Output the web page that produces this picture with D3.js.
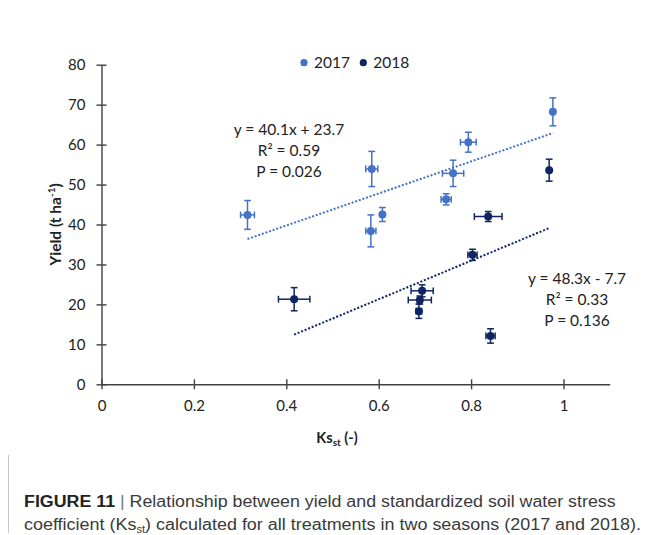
<!DOCTYPE html>
<html>
<head>
<meta charset="utf-8">
<script src="https://cdn.jsdelivr.net/npm/d3@7"></script>
<style>
  html, body { margin: 0; padding: 0; background: #fff; }
  svg { display: block; }
</style>
</head>
<body>
<svg id="chart" width="648" height="535"></svg>
<script>
// Yield vs. standardized soil water stress coefficient, two seasons
const seasons = ["2017", "2018"];
const seasonColors = ["#4472C4", "#0E2463"];

const ks2017 = [0.316, 0.585, 0.583, 0.608, 0.794, 0.761, 0.746, 0.977];
const yield2017 = [42.4, 53.9, 38.4, 42.5, 60.6, 52.8, 46.3, 68.2];
const ksErr2017 = [0.015, 0.013, 0.011, 0.003, 0.017, 0.023, 0.011, 0.003];
const yieldErr2017 = [3.6, 4.4, 4.0, 1.75, 2.5, 3.3, 1.4, 3.5];

const ks2018 = [0.969, 0.837, 0.803, 0.842, 0.417, 0.694, 0.689, 0.687];
const yield2018 = [53.6, 42.0, 32.4, 12.1, 21.3, 23.4, 21.1, 18.3];
const ksErr2018 = [0.003, 0.03, 0.01, 0.01, 0.034, 0.024, 0.025, 0.006];
const yieldErr2018 = [2.75, 1.25, 1.4, 1.8, 2.9, 1.5, 1.0, 1.8];

// Linear fits: slope, intercept, and fitted x-range
const fitSlope = [40.1, 48.3];
const fitIntercept = [23.7, -7.7];
const fitRange = [[0.316, 0.977], [0.417, 0.969]];
const fitLabels = [
  ["y = 40.1x + 23.7", "R² = 0.59", "P = 0.026"],
  ["y = 48.3x - 7.7", "R² = 0.33", "P = 0.136"]
];

const xTicks = [0, 0.2, 0.4, 0.6, 0.8, 1];
const yTicks = [0, 10, 20, 30, 40, 50, 60, 70, 80];

const svg = d3.select("#chart");
const font = "Lato, 'Open Sans', sans-serif";
const axisColor = "#404040";

const x = d3.scaleLinear().domain([0, 1.1]).range([101.5, 609.7]);
const y = d3.scaleLinear().domain([0, 80]).range([384.3, 64.7]);

// Axes with ticks crossing the axis line
const xAxis = svg.append("g")
  .attr("transform", `translate(0,${y(0)})`)
  .call(d3.axisBottom(x).tickValues(xTicks).tickSize(5).tickSizeOuter(0)
    .tickFormat(d => d === 0 ? "0" : d === 1 ? "1" : d3.format(".1f")(d)));
xAxis.selectAll(".tick line").attr("y1", -5).attr("y2", 5);
xAxis.selectAll(".tick text").attr("y", 16).attr("dy", "0.71em");

const yAxis = svg.append("g")
  .attr("transform", `translate(${x(0)},0)`)
  .call(d3.axisLeft(y).tickValues(yTicks).tickSize(5).tickSizeOuter(0));
yAxis.selectAll(".tick line").attr("x1", -5).attr("x2", 5);
yAxis.selectAll(".tick text").attr("x", -16);

[xAxis, yAxis].forEach(g => {
  g.select(".domain").attr("stroke", axisColor).attr("stroke-width", 1.4);
  g.selectAll(".tick line").attr("stroke", axisColor).attr("stroke-width", 1.4);
  g.selectAll(".tick text").attr("fill", "#222").style("font-family", font).style("font-size", "15px");
});

// Axis titles
const yTitle = svg.append("text")
  .attr("transform", `translate(61,${y(40)}) rotate(-90)`)
  .attr("text-anchor", "middle")
  .style("font-family", font).style("font-size", "15.5px").style("font-weight", "bold")
  .attr("fill", "#222");
yTitle.append("tspan").text("Yield (t ha");
yTitle.append("tspan").attr("dy", -6).style("font-size", "10px").text("-1");
yTitle.append("tspan").attr("dy", 6).text(")");

const xTitle = svg.append("text")
  .attr("x", 337).attr("y", 443)
  .attr("text-anchor", "middle")
  .style("font-family", font).style("font-size", "14.5px").style("font-weight", "bold")
  .attr("fill", "#222");
xTitle.append("tspan").text("Ks");
xTitle.append("tspan").attr("dy", 3).style("font-size", "10px").text("st");
xTitle.append("tspan").attr("dy", -3).text(" (-)");

// Trend lines
const series = [
  { ks: ks2017, yl: yield2017, kse: ksErr2017, yle: yieldErr2017 },
  { ks: ks2018, yl: yield2018, kse: ksErr2018, yle: yieldErr2018 }
];

series.forEach((s, i) => {
  const [a, b] = fitRange[i];
  svg.append("line")
    .attr("x1", x(a)).attr("y1", y(fitSlope[i] * a + fitIntercept[i]))
    .attr("x2", x(b)).attr("y2", y(fitSlope[i] * b + fitIntercept[i]))
    .attr("stroke", seasonColors[i]).attr("stroke-width", 2)
    .attr("stroke-dasharray", "2,1.8");
});

// Error bars and markers
const cap = 3.4;
series.forEach((s, i) => {
  const pts = s.ks.map((k, j) => ({ k, v: s.yl[j], ke: s.kse[j], ve: s.yle[j] }));
  const g = svg.append("g").attr("stroke", seasonColors[i]).attr("stroke-width", 1.5);
  pts.forEach(p => {
    const cx = x(p.k), cy = y(p.v);
    const yTop = y(p.v + p.ve), yBot = y(p.v - p.ve);
    const xL = x(p.k - p.ke), xR = x(p.k + p.ke);
    g.append("line").attr("x1", cx).attr("x2", cx).attr("y1", yTop).attr("y2", yBot);
    g.append("line").attr("x1", cx - cap).attr("x2", cx + cap).attr("y1", yTop).attr("y2", yTop);
    g.append("line").attr("x1", cx - cap).attr("x2", cx + cap).attr("y1", yBot).attr("y2", yBot);
    g.append("line").attr("x1", xL).attr("x2", xR).attr("y1", cy).attr("y2", cy);
    g.append("line").attr("x1", xL).attr("x2", xL).attr("y1", cy - cap).attr("y2", cy + cap);
    g.append("line").attr("x1", xR).attr("x2", xR).attr("y1", cy - cap).attr("y2", cy + cap);
  });
  svg.append("g").selectAll("circle").data(pts).join("circle")
    .attr("cx", d => x(d.k)).attr("cy", d => y(d.v)).attr("r", 4)
    .attr("fill", seasonColors[i]);
});

// Fit annotations
const annotPos = [[289, 130], [577, 279]];
fitLabels.forEach((lines, i) => {
  lines.forEach((t, j) => {
    svg.append("text")
      .attr("x", annotPos[i][0]).attr("y", annotPos[i][1] + j * 20.8)
      .attr("dy", "0.35em").attr("text-anchor", "middle")
      .style("font-family", font).style("font-size", "15.5px").attr("fill", "#222")
      .text(t);
  });
});

// Legend
const legendX = [304, 363.3];
seasons.forEach((s, i) => {
  svg.append("circle").attr("cx", legendX[i]).attr("cy", 62.7).attr("r", 3.6).attr("fill", seasonColors[i]);
  svg.append("text").attr("x", legendX[i] + 10).attr("y", 62.7).attr("dy", "0.35em")
    .style("font-family", font).style("font-size", "15.5px").attr("fill", "#222").text(s);
});

// Caption
svg.append("line").attr("x1", 8.5).attr("x2", 8.5).attr("y1", 455).attr("y2", 533)
  .attr("stroke", "#c8c8c8").attr("stroke-width", 1);

const capFont = "'Liberation Sans', Arial, sans-serif";
function captionLine(yPos, targetWidth, build) {
  const t = svg.append("text").attr("x", 0).attr("y", 0)
    .style("font-family", capFont).style("font-size", "16px").attr("fill", "#3a3a3a");
  build(t);
  const w = t.node().getComputedTextLength();
  t.attr("transform", `translate(24,${yPos}) scale(${targetWidth / w},1)`);
}
captionLine(507, 592, t => {
  t.append("tspan").style("font-weight", "bold").attr("fill", "#222").text("FIGURE 11");
  t.append("tspan").attr("fill", "#777").text(" | ");
  t.append("tspan").text("Relationship between yield and standardized soil water stress");
});
captionLine(530, 617, t => {
  t.append("tspan").text("coefficient (Ks");
  t.append("tspan").attr("dy", 3).style("font-size", "10px").text("st");
  t.append("tspan").attr("dy", -3).text(") calculated for all treatments in two seasons (2017 and 2018).");
});
</script>
</body>
</html>
